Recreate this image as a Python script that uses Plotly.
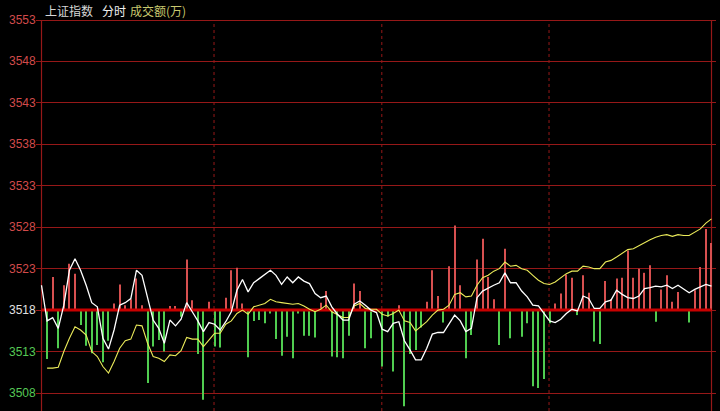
import plotly.graph_objects as go

# ---------------- data (2-minute samples, 0..240 min) ----------------
prev_close = 3518
y_ticks = [3508, 3513, 3518, 3523, 3528, 3533, 3538, 3543, 3548, 3553]
minutes = list(range(0, 241, 2))

price = [
    3521.0, 3516.7, 3517.1, 3515.8, 3518.6, 3522.8, 3524.2, 3522.8, 3521.0, 3518.9,
    3518.4, 3514.6, 3513.3, 3515.6, 3518.6, 3518.9, 3519.4, 3522.8, 3522.2, 3519.6,
    3516.8, 3515.8, 3514.0, 3516.8, 3516.1, 3516.9, 3518.9, 3517.8, 3516.7, 3515.4,
    3516.5, 3516.3, 3515.6, 3516.6, 3517.8, 3520.4, 3521.7, 3520.2, 3521.3, 3521.8,
    3522.3, 3522.8, 3522.2, 3521.1, 3522.0, 3521.3, 3522.0, 3521.5, 3521.2, 3520.0,
    3519.5, 3519.7, 3518.4, 3517.5, 3516.8, 3516.8, 3518.7, 3519.1, 3518.6, 3518.0,
    3517.7, 3515.7, 3515.4, 3516.4, 3516.6, 3514.3, 3513.2, 3512.0, 3512.0, 3513.4,
    3515.1, 3515.3, 3515.3, 3516.4, 3517.4, 3516.7, 3515.4, 3515.8, 3519.5, 3520.3,
    3520.7, 3521.0, 3521.3, 3522.5, 3521.3, 3521.3, 3520.3, 3519.6, 3518.6, 3518.5,
    3517.6, 3516.7, 3516.5, 3516.9, 3517.6, 3518.1, 3517.9, 3519.7, 3519.4, 3518.2,
    3518.2, 3519.0, 3519.2, 3520.4, 3519.9, 3519.5, 3519.4, 3519.7, 3520.6, 3520.7,
    3520.9, 3520.8, 3521.0, 3520.6, 3521.0, 3520.6, 3520.1, 3520.5, 3520.8, 3521.1,
    3520.9,
]

avg_price = [
    None, 3511.0, 3511.0, 3511.1, 3513.0, 3514.6, 3516.0, 3515.6, 3515.0, 3513.0,
    3512.4, 3511.2, 3510.4, 3511.8, 3513.4, 3514.3, 3514.5, 3516.2, 3516.1, 3514.0,
    3512.4, 3512.2, 3511.8, 3512.6, 3512.5, 3513.1, 3514.7, 3514.5, 3514.5, 3513.6,
    3514.4, 3515.2, 3515.2, 3516.3, 3516.7, 3517.6, 3518.0, 3517.5, 3518.4, 3518.6,
    3518.8, 3519.3, 3519.0, 3518.9, 3518.8, 3518.7, 3518.8, 3518.5, 3518.1, 3517.8,
    3518.1, 3518.6, 3517.8, 3517.4, 3517.1, 3517.1, 3518.5, 3518.8, 3518.2, 3518.1,
    3518.1, 3517.5, 3517.3, 3517.6, 3518.0, 3516.7, 3516.5, 3515.5, 3516.0, 3516.6,
    3517.4, 3518.0, 3518.1, 3518.6, 3519.9, 3520.1, 3519.6, 3519.7, 3521.0, 3521.9,
    3522.2, 3522.7, 3523.0, 3523.8, 3523.3, 3523.4, 3523.0, 3522.8, 3522.2, 3521.6,
    3521.2, 3521.1, 3521.4, 3521.9, 3522.4, 3522.7, 3522.7, 3523.3, 3523.2, 3523.0,
    3523.0, 3523.8, 3524.0, 3524.4, 3524.9, 3525.3, 3525.4, 3525.8, 3526.2, 3526.5,
    3526.8, 3527.0, 3527.1, 3526.9, 3527.1, 3527.0, 3527.0, 3527.4, 3527.8, 3528.5,
    3529.0,
]

# indicator bars (offset from previous close; + red, - green)
bars = [
    0.0, -5.9, 4.0, -4.6, 3.0, 5.6, 4.4, -1.8, -4.3, -5.2,
    -4.2, -6.3, -3.7, 0.8, 3.1, 0.6, 1.3, 3.8, 0.6, -8.8,
    -4.4, -3.6, -5.0, 0.5, 0.5, -0.8, 6.1, 1.2, -5.3, -10.8,
    1.0, -4.4, -4.5, 1.5, 4.8, 5.1, 0.8, -5.7, -1.3, -1.2,
    -1.6, -0.4, -3.5, -5.5, -3.2, -5.8, -0.4, -3.1, -3.1, -3.3,
    0.9, 2.3, -5.6, -5.7, -5.8, -3.1, 3.2, 2.3, -4.6, -3.4,
    0.0, -6.8, -0.8, -7.4, 0.6, -11.6, -5.3, -4.8, -2.1, 1.0,
    4.8, 1.7, -1.5, 5.3, 10.2, 3.0, -5.8, -3.0, 6.1, 8.6,
    4.0, 1.3, -4.2, 7.4, -3.4, 0.0, -3.2, -1.6, -9.2, -9.4,
    -8.3, -1.6, 0.8, 2.0, 4.3, 3.9, -0.6, 4.2, 2.1, -3.8,
    -4.1, 3.5, 1.3, 3.8, 3.9, 7.2, 3.9, 5.0, 4.5, 5.4,
    -1.4, 2.5, 4.2, 1.0, 2.2, 0.0, -1.5, 2.4, 5.2, 9.8,
    8.1,
]

session_marks = [61.8, 121.9, 181.8]
day_start, day_end = 0, 240

# ---------------- styles ----------------
GRID = "rgb(150,24,24)"
RED_BAR = "rgb(215,80,80)"
GREEN_BAR = "rgb(80,205,80)"
W, H = 720, 411
L, R, T, B = 36, 4, 15, 0
PX_PER_MIN = 670 / 240
PX_PER_PT = 373 / 45

x0 = day_start - (41.5 - L) / PX_PER_MIN
x1 = x0 + (W - L - R) / PX_PER_MIN
ytop = max(y_ticks) + (20 - T) / PX_PER_PT
ybot = ytop - (H - T - B) / PX_PER_PT
top_frac = (max(y_ticks) - ybot) / (ytop - ybot)

up_x = [m for m, b in zip(minutes, bars) if b > 0]
up_y = [b for b in bars if b > 0]
dn_x = [m for m, b in zip(minutes, bars) if b < 0]
dn_y = [b for b in bars if b < 0]

fig = go.Figure()
fig.add_trace(go.Bar(x=up_x, y=up_y, base=prev_close, width=0.38,
                     marker=dict(color=RED_BAR, line=dict(width=0))))
fig.add_trace(go.Bar(x=dn_x, y=dn_y, base=prev_close, width=0.38,
                     marker=dict(color=GREEN_BAR, line=dict(width=0))))
fig.add_trace(go.Scatter(x=[day_start, day_end], y=[prev_close, prev_close], mode="lines",
                         line=dict(color="rgb(200,0,0)", width=3), hoverinfo="skip"))
fig.add_trace(go.Scatter(x=minutes, y=avg_price, mode="lines",
                         line=dict(color="rgb(235,235,90)", width=1.1)))
fig.add_trace(go.Scatter(x=minutes, y=price, mode="lines",
                         line=dict(color="white", width=1.3)))

shapes = []
for m in session_marks:
    shapes.append(dict(type="line", xref="x", yref="paper", x0=m, x1=m, y0=0, y1=top_frac,
                       line=dict(color=GRID, width=1, dash="dot"), layer="below"))
for m in (day_start, day_end):
    shapes.append(dict(type="line", xref="x", yref="paper", x0=m, x1=m, y0=0, y1=top_frac,
                       line=dict(color=GRID, width=1.2), layer="below"))

annotations = []
label_x = (38 - L) / (W - L - R)
for v in y_ticks:
    if v > prev_close:
        c = "rgb(210,75,75)"
    elif v == prev_close:
        c = "rgb(225,225,225)"
    else:
        c = "rgb(85,200,85)"
    annotations.append(dict(x=label_x, xref="paper", y=v, yref="y", text=str(v),
                            showarrow=False, xanchor="right", yanchor="middle",
                            font=dict(color=c, size=12, family="Liberation Sans, Arial")))

title_y = 1 + (T - 11) / (H - T - B)
title_parts = [("上证指数", "rgb(215,215,215)", 43), ("分时", "rgb(240,240,240)", 100),
               ("成交额(万)", "rgb(200,200,110)", 128)]
for txt, col, px in title_parts:
    annotations.append(dict(x=(px - L) / (W - L - R), xref="paper", y=title_y,
                            yref="paper", text=txt, showarrow=False, xanchor="left", yanchor="middle",
                            font=dict(color=col, size=12, family="Noto Sans CJK SC")))

fig.update_layout(
    width=W, height=H,
    margin=dict(l=L, r=R, t=T, b=B, pad=0),
    paper_bgcolor="black", plot_bgcolor="black",
    showlegend=False, barmode="overlay",
    xaxis=dict(range=[x0, x1], showgrid=False, zeroline=False, showticklabels=False,
               ticks="", showline=False, fixedrange=True),
    yaxis=dict(range=[ybot, ytop], tickvals=y_ticks, showticklabels=False, ticks="",
               showgrid=True, gridcolor=GRID, gridwidth=1.2, zeroline=False, showline=False),
    shapes=shapes,
    annotations=annotations,
)

fig.write_html("out.html", config={"displayModeBar": False},
               post_script="document.body.style.margin='0';document.body.style.background='black';")
